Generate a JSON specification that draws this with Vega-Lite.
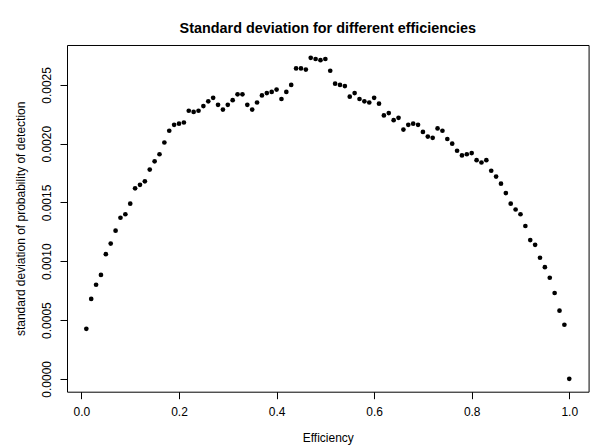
{
  "$schema": "https://vega.github.io/schema/vega-lite/v6.json",
  "autosize": {"type": "none"},
  "padding": {"left": 67, "top": 45, "right": 5, "bottom": 55},
  "width": 521.6,
  "height": 346.7,
  "background": "white",
  "title": {
    "text": "Standard deviation for different efficiencies",
    "font": "Liberation Sans",
    "fontSize": 14.4,
    "fontWeight": "bold",
    "color": "black",
    "anchor": "middle",
    "frame": "group",
    "baseline": "alphabetic",
    "offset": -2
  },
  "config": {
    "view": {"stroke": "black", "strokeWidth": 1},
    "axis": {
      "grid": false,
      "domain": false,
      "tickColor": "black",
      "tickSize": 7,
      "tickWidth": 1,
      "labelFont": "Liberation Sans",
      "labelFontSize": 12,
      "labelColor": "black",
      "labelFlush": false,
      "labelOverlap": false,
      "titleFont": "Liberation Sans",
      "titleFontSize": 12,
      "titleFontWeight": "normal",
      "titleColor": "black"
    }
  },
  "data": {
    "values": [
      {"efficiency": 0.01, "sd": 0.000425},
      {"efficiency": 0.02, "sd": 0.00068},
      {"efficiency": 0.03, "sd": 0.0008},
      {"efficiency": 0.04, "sd": 0.000884},
      {"efficiency": 0.05, "sd": 0.00106},
      {"efficiency": 0.06, "sd": 0.00115},
      {"efficiency": 0.07, "sd": 0.00126},
      {"efficiency": 0.08, "sd": 0.00137},
      {"efficiency": 0.09, "sd": 0.0014},
      {"efficiency": 0.10, "sd": 0.00149},
      {"efficiency": 0.11, "sd": 0.00162},
      {"efficiency": 0.12, "sd": 0.00165},
      {"efficiency": 0.13, "sd": 0.00168},
      {"efficiency": 0.14, "sd": 0.00178},
      {"efficiency": 0.15, "sd": 0.00185},
      {"efficiency": 0.16, "sd": 0.00191},
      {"efficiency": 0.17, "sd": 0.00201},
      {"efficiency": 0.18, "sd": 0.00211},
      {"efficiency": 0.19, "sd": 0.00216},
      {"efficiency": 0.20, "sd": 0.00217},
      {"efficiency": 0.21, "sd": 0.00218},
      {"efficiency": 0.22, "sd": 0.00228},
      {"efficiency": 0.23, "sd": 0.00227},
      {"efficiency": 0.24, "sd": 0.00228},
      {"efficiency": 0.25, "sd": 0.00232},
      {"efficiency": 0.26, "sd": 0.00236},
      {"efficiency": 0.27, "sd": 0.00239},
      {"efficiency": 0.28, "sd": 0.00233},
      {"efficiency": 0.29, "sd": 0.00229},
      {"efficiency": 0.30, "sd": 0.00233},
      {"efficiency": 0.31, "sd": 0.00237},
      {"efficiency": 0.32, "sd": 0.00242},
      {"efficiency": 0.33, "sd": 0.00242},
      {"efficiency": 0.34, "sd": 0.00233},
      {"efficiency": 0.35, "sd": 0.00229},
      {"efficiency": 0.36, "sd": 0.00235},
      {"efficiency": 0.37, "sd": 0.00241},
      {"efficiency": 0.38, "sd": 0.00243},
      {"efficiency": 0.39, "sd": 0.00244},
      {"efficiency": 0.40, "sd": 0.00246},
      {"efficiency": 0.41, "sd": 0.00238},
      {"efficiency": 0.42, "sd": 0.00244},
      {"efficiency": 0.43, "sd": 0.0025},
      {"efficiency": 0.44, "sd": 0.00264},
      {"efficiency": 0.45, "sd": 0.00264},
      {"efficiency": 0.46, "sd": 0.00263},
      {"efficiency": 0.47, "sd": 0.00273},
      {"efficiency": 0.48, "sd": 0.00272},
      {"efficiency": 0.49, "sd": 0.00271},
      {"efficiency": 0.50, "sd": 0.00272},
      {"efficiency": 0.51, "sd": 0.00262},
      {"efficiency": 0.52, "sd": 0.00251},
      {"efficiency": 0.53, "sd": 0.0025},
      {"efficiency": 0.54, "sd": 0.00249},
      {"efficiency": 0.55, "sd": 0.0024},
      {"efficiency": 0.56, "sd": 0.00243},
      {"efficiency": 0.57, "sd": 0.00238},
      {"efficiency": 0.58, "sd": 0.00236},
      {"efficiency": 0.59, "sd": 0.00235},
      {"efficiency": 0.60, "sd": 0.00239},
      {"efficiency": 0.61, "sd": 0.00234},
      {"efficiency": 0.62, "sd": 0.00224},
      {"efficiency": 0.63, "sd": 0.00226},
      {"efficiency": 0.64, "sd": 0.0022},
      {"efficiency": 0.65, "sd": 0.00222},
      {"efficiency": 0.66, "sd": 0.00212},
      {"efficiency": 0.67, "sd": 0.00216},
      {"efficiency": 0.68, "sd": 0.00217},
      {"efficiency": 0.69, "sd": 0.00216},
      {"efficiency": 0.70, "sd": 0.0021},
      {"efficiency": 0.71, "sd": 0.00206},
      {"efficiency": 0.72, "sd": 0.00205},
      {"efficiency": 0.73, "sd": 0.00213},
      {"efficiency": 0.74, "sd": 0.00211},
      {"efficiency": 0.75, "sd": 0.00204},
      {"efficiency": 0.76, "sd": 0.002},
      {"efficiency": 0.77, "sd": 0.00194},
      {"efficiency": 0.78, "sd": 0.0019},
      {"efficiency": 0.79, "sd": 0.00191},
      {"efficiency": 0.80, "sd": 0.00192},
      {"efficiency": 0.81, "sd": 0.00186},
      {"efficiency": 0.82, "sd": 0.00184},
      {"efficiency": 0.83, "sd": 0.00186},
      {"efficiency": 0.84, "sd": 0.00177},
      {"efficiency": 0.85, "sd": 0.00172},
      {"efficiency": 0.86, "sd": 0.00166},
      {"efficiency": 0.87, "sd": 0.00158},
      {"efficiency": 0.88, "sd": 0.00149},
      {"efficiency": 0.89, "sd": 0.00144},
      {"efficiency": 0.90, "sd": 0.0014},
      {"efficiency": 0.91, "sd": 0.0013},
      {"efficiency": 0.92, "sd": 0.00118},
      {"efficiency": 0.93, "sd": 0.00114},
      {"efficiency": 0.94, "sd": 0.00103},
      {"efficiency": 0.95, "sd": 0.00095},
      {"efficiency": 0.96, "sd": 0.00086},
      {"efficiency": 0.97, "sd": 0.00073},
      {"efficiency": 0.98, "sd": 0.00058},
      {"efficiency": 0.99, "sd": 0.00046},
      {"efficiency": 1.00, "sd": 0.0}
    ]
  },
  "mark": {"type": "circle", "color": "black", "opacity": 1, "size": 22},
  "encoding": {
    "x": {
      "field": "efficiency",
      "type": "quantitative",
      "scale": {"domain": [-0.0296, 1.0396], "nice": false, "zero": false},
      "axis": {
        "title": "Efficiency",
        "values": [0, 0.2, 0.4, 0.6, 0.8, 1.0],
        "format": ".1f",
        "labelBaseline": "alphabetic",
        "labelPadding": 17,
        "titleBaseline": "alphabetic",
        "titleY": 50
      }
    },
    "y": {
      "field": "sd",
      "type": "quantitative",
      "scale": {"domain": [-0.0001092, 0.0028392], "nice": false, "zero": false},
      "axis": {
        "title": "standard deviation of probability of detection",
        "values": [0, 0.0005, 0.001, 0.0015, 0.002, 0.0025],
        "format": ".4f",
        "labelAngle": -90,
        "labelAlign": "center",
        "labelBaseline": "alphabetic",
        "labelPadding": 10,
        "titleAngle": -90,
        "titleAlign": "center",
        "titleBaseline": "alphabetic",
        "titleX": -43
      }
    }
  }
}
